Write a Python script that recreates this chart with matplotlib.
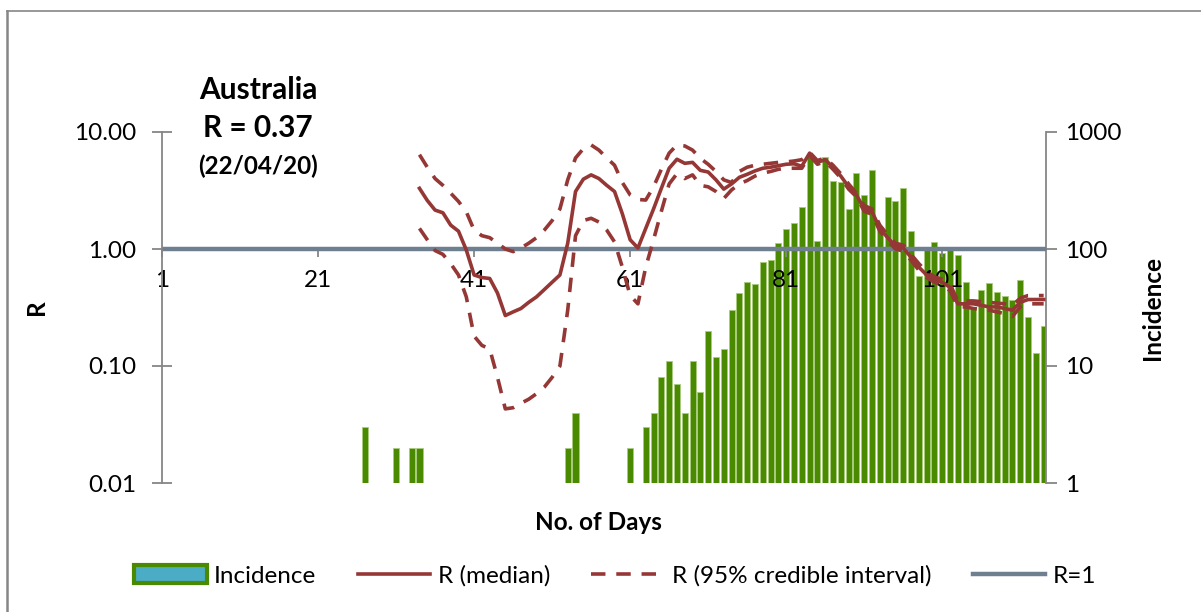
import matplotlib
matplotlib.use("Agg")
import matplotlib.pyplot as plt
from matplotlib.patches import Patch
from matplotlib.lines import Line2D
from matplotlib.ticker import FixedLocator, FixedFormatter, NullLocator

plt.rcParams["font.family"] = ["Lato", "DejaVu Sans"]

# daily incidence (only days with cases)
inc_days = [27, 31, 33, 34, 53, 54, 61, 63, 64, 65, 66, 67, 68, 69, 70,
            71, 72, 73, 74, 75, 76, 77, 78, 79, 80, 81, 82, 83, 84, 85,
            86, 87, 88, 89, 90, 91, 92, 93, 94, 95, 96, 97, 98, 99, 100,
            101, 102, 103, 104, 105, 106, 107, 108, 109, 110, 111, 112, 113, 114]
incidence = [3, 2, 2, 2, 2, 4, 2, 3, 4, 8, 11, 7, 4, 11, 6,
             20, 12, 14, 30, 42, 52, 50, 78, 80, 113, 147, 168, 230, 615, 116,
             608, 383, 374, 218, 444, 291, 473, 153, 277, 256, 330, 143, 59, 103, 114,
             93, 103, 88, 52, 31, 45, 51, 43, 40, 37, 54, 26, 13, 22]

# R estimates, days 34..114
r_days = list(range(34, 115))
r_median = [3.3, 2.6, 2.15, 2.04, 1.6, 1.42, 0.98, 0.60, 0.57, 0.56,
            0.42, 0.27, 0.29, 0.31, 0.35, 0.39, 0.45, 0.52, 0.60, 1.12,
            3.1, 3.95, 4.3, 4.0, 3.5, 3.1, 2.0, 1.2, 1.02, 1.5,
            2.2, 3.3, 4.9, 5.85, 5.4, 5.5, 4.7, 4.55, 3.9, 3.25,
            3.6, 4.1, 4.35, 4.65, 4.9, 5.0, 5.15, 5.3, 5.35, 5.1,
            6.6, 5.5, 5.8, 5.0, 4.2, 3.4, 2.9, 2.2, 2.08, 1.5,
            1.25, 1.06, 1.02, 0.85, 0.70, 0.60, 0.55, 0.52, 0.47, 0.34,
            0.34, 0.34, 0.33, 0.32, 0.32, 0.31, 0.30, 0.35, 0.37, 0.37, 0.37]
r_upper = [6.4, 5.0, 4.0, 3.5, 3.0, 2.55, 2.08, 1.45, 1.3, 1.25,
           1.12, 1.0, 0.95, 1.02, 1.12, 1.25, 1.45, 1.75, 2.2, 3.9,
           6.0, 7.2, 7.75, 7.0, 6.0, 5.2, 3.7, 2.9, 2.65, 2.62,
           3.4, 4.8, 6.6, 7.75, 7.6, 7.0, 5.95, 5.3, 4.6, 3.9,
           3.7, 4.6, 5.0, 5.2, 5.3, 5.4, 5.5, 5.55, 5.65, 5.8,
           6.7, 5.7, 6.0, 5.2, 4.4, 3.6, 3.0, 2.35, 2.2, 1.6,
           1.32, 1.12, 1.08, 0.9, 0.75, 0.64, 0.58, 0.55, 0.5, 0.36,
           0.36, 0.36, 0.355, 0.35, 0.345, 0.34, 0.33, 0.38, 0.40, 0.40, 0.40]
r_lower = [1.5, 1.2, 0.97, 0.9, 0.75, 0.6, 0.39, 0.18, 0.15, 0.14,
           0.08, 0.043, 0.044, 0.048, 0.052, 0.058, 0.066, 0.08, 0.1, 0.3,
           1.3, 1.75, 1.83, 1.7, 1.45, 1.15, 0.7, 0.4, 0.34, 0.7,
           1.2, 2.1, 3.6, 4.4, 4.0, 4.3, 3.5, 3.4, 3.1, 2.7,
           3.2, 3.6, 3.85, 4.2, 4.45, 4.6, 4.8, 4.9, 4.9, 4.9,
           6.3, 5.3, 5.6, 4.8, 4.05, 3.25, 2.8, 2.1, 1.98, 1.42,
           1.18, 1.0, 0.96, 0.8, 0.66, 0.57, 0.52, 0.49, 0.44, 0.32,
           0.32, 0.31, 0.305, 0.3, 0.29, 0.28, 0.265, 0.32, 0.34, 0.34, 0.34]

x_ticks = [1, 21, 41, 61, 81, 101]
r_ticks = [0.01, 0.1, 1, 10]
inc_ticks = [1, 10, 100, 1000]

RED = "#953735"
GREEN = "#4A8A00"
SLATE = "#6E7F90"
GREY = "#868686"
FS = 17.5
LW = 2.6
DASH = (0, (4, 3))

W, H = 1201, 612
fig = plt.figure(figsize=(W / 100, H / 100), dpi=100)
ax = fig.add_axes([162 / W, 1 - 483 / H, (1046 - 162) / W, (483 - 132) / H])
ax2 = ax.twinx()
ax.set_zorder(ax2.get_zorder() + 1)
ax.patch.set_visible(False)

# bars on the right (incidence) axis
ax2.set_yscale("log")
ax2.bar(inc_days, incidence, width=0.78, color=GREEN,
        edgecolor="#A9CC80", linewidth=0.6)
ax2.set_ylim(1, 1000)
ax2.yaxis.set_major_locator(FixedLocator(inc_ticks))
ax2.yaxis.set_major_formatter(FixedFormatter([str(t) for t in inc_ticks]))
ax2.yaxis.set_minor_locator(NullLocator())
ax2.tick_params(axis="y", direction="out", length=8, width=1.3, color=GREY,
                labelsize=FS, pad=6)
ax2.set_ylabel("Incidence", fontsize=FS, fontweight="bold", labelpad=14)

# R lines
ax.axhline(1, color=SLATE, lw=3.2, zorder=2)
ax.plot(r_days, r_median, color=RED, lw=LW, zorder=3)
ax.plot(r_days, r_upper, color=RED, lw=LW, ls=DASH, zorder=3)
ax.plot(r_days, r_lower, color=RED, lw=LW, ls=DASH, zorder=3)
ax.set_yscale("log")
ax.set_ylim(0.01, 10)
ax.set_xlim(1, 114.3)
ax.yaxis.set_major_locator(FixedLocator(r_ticks))
ax.yaxis.set_major_formatter(FixedFormatter([f"{t:.2f}" for t in r_ticks]))
ax.yaxis.set_minor_locator(NullLocator())
ax.tick_params(axis="y", direction="inout", length=15, width=1.3, color=GREY,
               labelsize=FS, pad=11)
ax.set_xticks(x_ticks)
ax.set_xticklabels([str(t) for t in x_ticks])
ax.tick_params(axis="x", direction="out", length=6, width=1.3, color=GREY,
               labelsize=FS, pad=9)
ax.spines["bottom"].set_position(("data", 1))
ax.spines["bottom"].set_color(SLATE)
ax.spines["left"].set_color(GREY)
ax.spines["left"].set_linewidth(1.3)
ax.spines["top"].set_visible(False)
ax.spines["right"].set_visible(False)
for s in ("left", "top", "bottom"):
    ax2.spines[s].set_visible(False)
ax2.spines["right"].set_color(GREY)
ax2.spines["right"].set_linewidth(1.3)

ax.set_ylabel("R", fontsize=FS, fontweight="bold")
ax.yaxis.set_label_coords(-114 / (1046 - 162), 0.5)
fig.text(598 / W, 1 - 522 / H, "No. of Days", fontsize=FS, fontweight="bold",
         ha="center", va="center")

# title block
fig.text(258 / W, 1 - 90 / H, "Australia", fontsize=21.5, fontweight="bold",
         ha="center", va="center")
fig.text(258 / W, 1 - 128 / H, "R = 0.37", fontsize=21.5, fontweight="bold",
         ha="center", va="center")
fig.text(258 / W, 1 - 166 / H, "(22/04/20)", fontsize=17.5, fontweight="bold",
         ha="center", va="center")

handles = [
    Patch(facecolor="#4BACC6", edgecolor=GREEN, linewidth=3, label="Incidence"),
    Line2D([], [], color=RED, lw=LW, label="R (median)"),
    Line2D([], [], color=RED, lw=LW, ls=DASH, label="R (95% credible interval)"),
    Line2D([], [], color=SLATE, lw=3.2, label="R=1"),
]
fig.legend(handles=handles, loc="center", bbox_to_anchor=(615 / W, 1 - 576 / H),
           ncol=4, frameon=False, fontsize=FS, handlelength=3.0,
           handleheight=0.75, handletextpad=0.3, columnspacing=1.7)

# chart-area border (top and left edges visible)
fig.add_artist(Line2D([7 / W, 1], [1 - 11 / H, 1 - 11 / H], color=GREY, lw=1.2))
fig.add_artist(Line2D([7 / W, 7 / W], [0, 1 - 11 / H], color=GREY, lw=1.8))

fig.savefig("out.png", dpi=100)
